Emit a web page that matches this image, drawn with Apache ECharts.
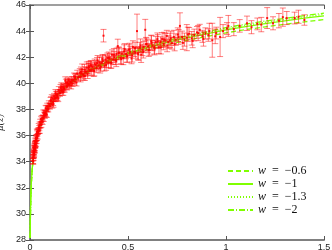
<!DOCTYPE html>
<html><head><meta charset="utf-8">
<script src="https://cdn.jsdelivr.net/npm/echarts@6/dist/echarts.min.js"></script>
<style>html,body{margin:0;padding:0;background:#fff}#c{width:332px;height:250px}</style>
</head><body><div id="c"></div>
<script>
// ---- observed supernova data: redshift, distance modulus, error ----
const snZ = [
0.0150,0.0155,0.0160,0.0165,0.0170,0.0175,0.0180,0.0185,0.0190,0.0195,0.0200,0.0205,0.0210,0.0215,0.0220,0.0225,0.0230,0.0235,0.0240,0.0245,
0.0250,0.0255,0.0260,0.0265,0.0270,0.0275,0.0280,0.0290,0.0300,0.0310,0.0320,0.0330,0.0340,0.0350,0.0360,0.0370,0.0380,0.0390,0.0400,0.0415,
0.0430,0.0445,0.0460,0.0475,0.0490,0.0505,0.0520,0.0540,0.0560,0.0580,0.0600,0.0620,0.0640,0.0660,0.0680,0.0700,0.0720,0.0740,0.0760,0.0780,
0.0800,0.0820,0.0840,0.0860,0.0880,0.0900,0.0930,0.0960,0.0990,
0.102,0.105,0.108,0.111,0.114,0.117,0.120,0.123,0.126,0.129,0.132,0.135,0.138,0.141,0.144,0.147,0.150,0.153,0.156,0.159,
0.162,0.165,0.168,0.171,0.174,0.177,0.180,0.183,0.186,0.189,0.192,0.195,0.198,0.201,0.205,0.209,0.213,0.217,0.221,0.225,
0.229,0.233,0.237,0.241,0.245,0.249,
0.254,0.258,0.262,0.266,0.270,0.274,0.278,0.282,0.286,0.290,0.294,0.298,0.302,0.306,0.310,0.315,0.320,0.325,0.330,0.335,
0.340,0.345,0.350,0.355,0.360,0.365,0.370,0.375,0.380,0.385,0.390,0.395,0.400,0.406,0.412,0.418,0.424,0.430,0.436,0.442,0.448,
0.455,0.462,0.469,0.476,0.483,0.490,0.497,0.504,0.511,0.518,0.525,0.532,0.539,0.546,0.553,0.560,0.567,0.574,0.581,0.588,
0.595,0.602,0.610,0.618,0.626,0.634,0.642,0.650,0.658,0.666,0.674,0.682,0.690,0.698,0.706,0.714,0.724,0.734,0.744,0.754,
0.765,0.776,0.788,0.800,0.812,0.825,0.838,0.852,0.866,0.880,0.895,0.910,0.930,0.950,0.970,0.985,1.005,1.012,1.040,1.070,
1.107,1.130,1.160,1.180,1.210,1.240,1.270,1.290,1.310,1.350,1.370,1.400,
0.312,0.328,0.342,0.358,0.372,0.388,0.402,0.415,0.428,0.440,0.452,0.466,0.480,0.494,0.508,0.522,0.536,0.550,0.564,0.578,
0.592,0.606,0.620,0.636,0.652,0.668,0.684,0.700,0.718,0.738,0.758,0.780,0.805,0.830,0.858,0.885,0.915,0.945,
0.260,0.280,0.300,0.230,0.210,0.190,0.170,0.160,0.140,0.130,0.118,0.107
];
const snMu = [
34.05,34.05,34.30,34.30,34.02,34.60,34.30,34.77,34.50,34.53,34.50,34.72,35.05,34.65,34.95,35.18,34.85,35.03,35.05,35.28,
35.40,34.91,35.30,35.32,35.22,35.60,35.55,35.33,35.82,35.40,35.76,35.85,35.60,36.28,35.82,36.15,36.25,35.95,36.28,36.37,
36.35,36.70,36.38,36.57,36.82,36.38,37.05,36.80,37.27,36.83,37.13,37.32,37.05,37.35,37.75,37.30,37.58,37.72,37.52,37.71,
38.10,37.65,38.05,37.60,38.25,38.10,38.02,38.43,38.28,
38.25,38.68,38.42,38.90,38.35,38.82,38.41,39.00,38.85,38.85,39.15,38.88,39.12,39.18,38.82,39.50,39.30,39.25,39.65,39.45,
39.54,39.33,39.72,39.56,39.67,39.56,40.20,40.07,39.76,39.75,40.05,39.95,40.24,39.88,40.12,40.06,40.25,40.00,40.23,40.54,
40.13,40.52,40.06,40.75,40.44,40.48,
40.80,40.49,40.78,41.06,40.70,40.58,41.05,40.91,40.89,41.20,40.71,41.15,41.23,40.99,41.40,41.01,41.25,40.98,41.50,41.42,
41.22,41.76,41.36,41.60,41.29,41.60,41.86,43.65,41.35,41.83,41.66,41.94,41.60,41.92,41.61,42.19,41.83,42.01,41.80,42.25,42.85,
42.36,41.95,42.29,41.93,42.62,42.26,42.09,42.58,42.41,41.90,42.78,42.42,42.35,44.00,42.22,42.75,42.20,42.56,42.79,44.10,
43.01,42.84,42.57,43.21,42.89,42.78,43.16,43.39,42.77,43.16,43.39,43.02,43.30,43.63,43.16,43.29,43.08,43.56,43.35,43.73,
44.40,43.55,43.35,43.50,43.80,43.45,43.70,43.90,44.10,43.60,43.82,43.70,43.30,43.85,43.55,44.00,44.20,44.40,44.15,44.40,
44.60,44.30,44.55,44.50,45.00,44.60,44.80,45.07,45.00,45.00,45.10,44.85,
41.30,40.95,41.55,41.15,41.70,41.40,41.95,41.55,42.20,41.70,42.30,41.85,42.45,42.05,42.60,42.15,42.70,42.30,42.90,42.40,
43.00,42.55,43.10,42.65,43.20,42.75,43.35,42.90,43.45,43.00,43.55,43.10,43.75,43.25,43.85,43.40,44.00,43.60,
40.90,40.55,41.30,40.40,39.85,40.05,39.35,39.75,38.95,39.25,38.55,38.70
];
const snErr = [
0.22,0.20,0.24,0.19,0.21,0.20,0.22,0.19,0.21,0.23,0.20,0.19,0.21,0.22,0.20,0.19,0.21,0.22,0.20,0.21,
0.19,0.22,0.20,0.21,0.20,0.22,0.19,0.21,0.20,0.22,0.19,0.21,0.20,0.22,0.20,0.21,0.19,0.22,0.20,0.21,
0.20,0.22,0.21,0.20,0.22,0.21,0.20,0.22,0.21,0.20,0.22,0.21,0.20,0.23,0.21,0.22,0.21,0.23,0.20,0.22,
0.21,0.23,0.22,0.21,0.23,0.22,0.21,0.23,0.22,
0.22,0.24,0.22,0.23,0.25,0.22,0.24,0.23,0.25,0.22,0.24,0.23,0.25,0.24,0.22,0.25,0.23,0.24,0.26,0.23,
0.25,0.24,0.26,0.23,0.25,0.24,0.30,0.25,0.23,0.26,0.24,0.25,0.23,0.26,0.24,0.25,0.27,0.24,0.26,0.25,
0.27,0.24,0.26,0.25,0.27,0.25,
0.32,0.38,0.30,0.42,0.35,0.33,0.40,0.36,0.31,0.44,0.34,0.37,0.30,0.41,0.35,0.38,0.33,0.45,0.36,0.32,
0.40,0.37,0.34,0.43,0.36,0.39,0.35,0.48,0.41,0.36,0.44,0.38,0.42,0.35,0.46,0.37,0.40,0.43,0.36,0.45,0.53,
0.40,0.45,0.36,0.50,0.42,0.38,0.47,0.41,0.44,0.40,0.48,0.37,0.43,1.30,0.46,0.39,0.60,0.44,0.41,0.80,
0.45,0.50,0.42,0.48,0.39,0.53,0.44,0.47,0.50,0.41,0.49,0.45,0.52,0.43,0.48,0.55,0.46,0.50,0.44,0.52,
1.00,0.45,0.50,1.00,0.48,0.52,0.45,0.45,0.42,0.46,0.43,0.48,1.30,0.45,1.50,0.50,0.45,0.80,0.50,0.48,
0.55,0.50,0.45,0.55,0.80,0.50,0.55,0.70,0.50,0.45,0.50,0.40,
0.40,0.38,0.42,0.36,0.44,0.40,0.45,0.38,0.46,0.42,0.48,0.40,0.50,0.44,0.47,0.52,0.45,0.48,0.50,0.46,
0.52,0.49,0.55,0.47,0.53,0.50,0.56,0.48,0.54,0.51,0.57,0.50,0.55,0.52,0.58,0.55,0.60,0.56,
0.35,0.33,0.38,0.30,0.28,0.30,0.27,0.29,0.26,0.28,0.25,0.27
];
// ---- model curves ----
const curveZ = [0.001,0.0015,0.002,0.003,0.004,0.005,0.007,0.01,0.015,0.02,0.03,0.04,0.05,0.07,0.1,0.15,0.2,0.25,0.3,0.4,0.5,0.6,0.7,0.8,0.9,1.0,1.1,1.2,1.3,1.4,1.5];
const muW06 = [28.16,29.04,29.66,30.55,31.17,31.66,32.40,33.18,34.06,34.69,35.58,36.22,36.71,37.46,38.29,39.24,39.91,40.45,40.88,41.57,42.13,42.58,42.97,43.30,43.58,43.87,44.11,44.33,44.52,44.71,44.88];
const muW1  = [28.16,29.04,29.66,30.55,31.17,31.66,32.40,33.18,34.06,34.69,35.58,36.22,36.71,37.47,38.31,39.27,39.96,40.51,40.96,41.68,42.26,42.73,43.14,43.49,43.79,44.10,44.35,44.58,44.79,44.99,45.17];
const muW13 = [28.16,29.04,29.66,30.55,31.17,31.66,32.40,33.18,34.06,34.69,35.58,36.22,36.71,37.47,38.32,39.28,39.98,40.53,40.99,41.72,42.31,42.79,43.21,43.57,43.87,44.19,44.44,44.68,44.89,45.09,45.28];
const muW2  = [28.16,29.04,29.66,30.55,31.17,31.66,32.40,33.18,34.06,34.69,35.58,36.22,36.72,37.48,38.33,39.30,40.01,40.57,41.03,41.77,42.37,42.86,43.28,43.64,43.95,44.27,44.53,44.77,44.98,45.19,45.37];
const legendNames = ['w\u2002=\u2002−0.6','w\u2002=\u2002−1','w\u2002=\u2002−1.3','w\u2002=\u2002−2'];
const xTicks = [0,0.5,1,1.5];
const yTicks = [28,30,32,34,36,38,40,42,44,46];

const chart = echarts.init(document.getElementById('c'), null, {renderer:'canvas'});
const green = '#7fff00';
const pair = arr => curveZ.map((z,i)=>[z,arr[i]]);
const ebData = snZ.map((z,i)=>[z,snMu[i],snErr[i]]);
const axisCol = '#808080';
const lblStyle = {color:'#222', fontSize:9, fontFamily:'Liberation Sans, Arial, sans-serif'};
function lineSeries(name, arr, type){
  return {type:'line', name, data:pair(arr), symbol:'none', showSymbol:false, smooth:false,
    lineStyle:{color:green, width:1.3, type}, itemStyle:{color:green}, z:2, silent:true, animation:false};
}
chart.setOption({
  animation:false,
  grid:{left:30, right:8, top:5, bottom:10, containLabel:false, outerBoundsMode:'none'},
  xAxis:[{type:'value', min:xTicks[0], max:xTicks[xTicks.length-1], interval:0.5, position:'bottom',
    axisLine:{lineStyle:{color:axisCol, width:2}}, axisTick:{inside:true, length:4, lineStyle:{color:'#555'}},
    axisLabel:{...lblStyle, margin:3, formatter:v=>String(v)}, splitLine:{show:false}},
   {type:'value', min:xTicks[0], max:xTicks[xTicks.length-1], interval:0.5, position:'top',
    axisLine:{lineStyle:{color:axisCol, width:1.5}}, axisTick:{inside:true, length:4, lineStyle:{color:'#555'}},
    axisLabel:{show:false}, splitLine:{show:false}}],
  yAxis:[{type:'value', min:yTicks[0], max:yTicks[yTicks.length-1], interval:2, position:'left',
    name:'μ(z)', nameLocation:'middle', nameGap:21, nameRotate:90,
    nameTextStyle:{fontFamily:'DejaVu Serif, serif', fontStyle:'italic', fontSize:9, color:'#222'},
    axisLine:{lineStyle:{color:axisCol, width:2}}, axisTick:{inside:true, length:4, lineStyle:{color:'#555'}},
    axisLabel:{...lblStyle, margin:4}, splitLine:{show:false}},
   {type:'value', min:yTicks[0], max:yTicks[yTicks.length-1], interval:2, position:'right',
    axisLine:{lineStyle:{color:axisCol, width:1.5}}, axisTick:{inside:true, length:4, lineStyle:{color:'#555'}},
    axisLabel:{show:false}, splitLine:{show:false}}],
  legend:{data:legendNames, orient:'vertical', left:227, top:165, itemWidth:25, itemHeight:8, itemGap:1,
    itemStyle:{opacity:0}, lineStyle:{opacity:1},
    formatter:n=>'{i|w}'+n.slice(1),
    textStyle:{fontFamily:'Liberation Serif, serif', fontSize:12, color:'#111', lineHeight:12,
      rich:{i:{fontFamily:'Liberation Serif, serif', fontStyle:'italic', fontSize:12, color:'#111'}}},
    selectedMode:false, padding:0},
  series:[
    lineSeries(legendNames[0], muW06, [5,3]),
    lineSeries(legendNames[1], muW1, 'solid'),
    lineSeries(legendNames[2], muW13, [1,2]),
    lineSeries(legendNames[3], muW2, [6,2,1,2]),
    {type:'custom', name:'data', data:ebData, z:3, silent:true, clip:true,
     encode:{x:0, y:1},
     renderItem:function(params, api){
       const x=api.value(0), y=api.value(1), e=api.value(2);
       const t=api.coord([x,y+e]), b=api.coord([x,y-e]), c=api.coord([x,y]);
       const w=3, st={stroke:'rgba(255,0,0,0.5)', lineWidth:1};
       return {type:'group', children:[
         {type:'line', shape:{x1:t[0],y1:t[1],x2:b[0],y2:b[1]}, style:st},
         {type:'line', shape:{x1:t[0]-w,y1:t[1],x2:t[0]+w,y2:t[1]}, style:st},
         {type:'line', shape:{x1:b[0]-w,y1:b[1],x2:b[0]+w,y2:b[1]}, style:st},
         {type:'rect', shape:{x:c[0]-1,y:c[1]-1,width:2,height:2}, style:{fill:'rgba(255,0,0,0.9)'}}
       ]};
     }}
  ]
});
</script></body></html>
